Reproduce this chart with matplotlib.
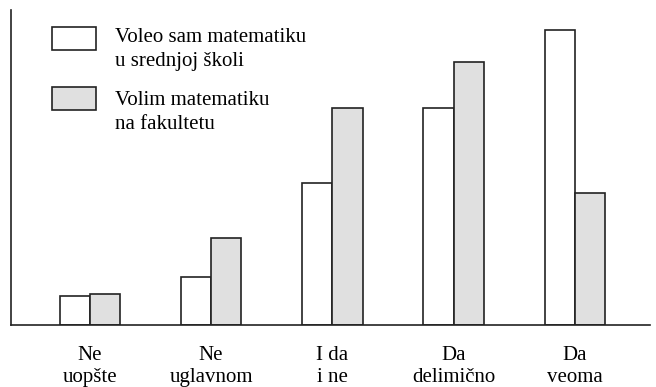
import matplotlib.pyplot as plt
from matplotlib.patches import Rectangle
import numpy as np

categories = ["Ne\nuopšte", "Ne\nuglavnom", "I da\ni ne", "Da\ndelimično", "Da\nveoma"]
srednja_skola = [29, 48, 142, 217, 295]
fakultet = [31, 87, 217, 263, 132]
labels = ["Voleo sam matematiku\nu srednjoj školi", "Volim matematiku\nna fakultetu"]
colors = ["white", "#e0e0e0"]
EDGE = "#222222"

plt.rcParams["font.family"] = ["Liberation Serif", "DejaVu Serif"]

W, H = 656, 387
fig = plt.figure(figsize=(W / 100, H / 100), dpi=100)
ax = fig.add_axes([11 / W, 62 / H, 639 / W, 315 / H])

x = np.arange(len(categories))
w = 0.25
ax.bar(x - w / 2, srednja_skola, w, color=colors[0], edgecolor=EDGE, linewidth=1.2)
ax.bar(x + w / 2, fakultet, w, color=colors[1], edgecolor=EDGE, linewidth=1.2)

ax.set_xlim(-0.65, 4.62)
ax.set_ylim(0, 315)
ax.set_xticks(x)
ax.set_xticklabels(categories, fontsize=15, linespacing=1.2)
ax.tick_params(axis="x", length=0, pad=15)
ax.set_yticks([])
for side in ["top", "right"]:
    ax.spines[side].set_visible(False)
for side in ["left", "bottom"]:
    ax.spines[side].set_color(EDGE)
    ax.spines[side].set_linewidth(1.2)

# hand-placed legend (pixel positions from top-left)
for i, (lab, col) in enumerate(zip(labels, colors)):
    top = 27 + 60 * i
    fig.patches.append(Rectangle((52 / W, 1 - (top + 23) / H), 44 / W, 23 / H,
                                 transform=fig.transFigure, facecolor=col,
                                 edgecolor=EDGE, linewidth=1.2))
    fig.text(115 / W, 1 - (top + 1 + 3 * i) / H, lab, fontsize=15, va="top",
             ha="left", linespacing=1.38)

fig.savefig("out.png", dpi=100)
